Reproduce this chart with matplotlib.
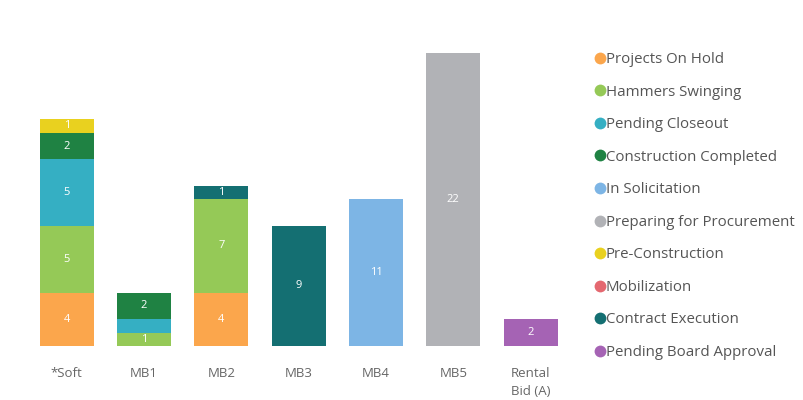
"""Stacked bar chart of project status per category."""

import matplotlib.pyplot as plt
import numpy as np
from matplotlib.lines import Line2D

plt.rcParams["font.family"] = ["Open Sans", "DejaVu Sans"]

CATEGORIES = ["*Soft", "MB1", "MB2", "MB3", "MB4", "MB5", "Rental\nBid (A)"]
STATUSES = [
    "Projects On Hold",
    "Hammers Swinging",
    "Pending Closeout",
    "Construction Completed",
    "In Solicitation",
    "Preparing for Procurement",
    "Pre-Construction",
    "Mobilization",
    "Contract Execution",
    "Pending Board Approval",
]
COLORS = [
    "#FBA64C",
    "#95C957",
    "#35AFC3",
    "#1F8243",
    "#7DB5E5",
    "#B1B2B6",
    "#E9D11F",
    "#E46870",
    "#146F72",
    "#A563B4",
]
# one row per status, one column per category
VALUES = {
    "Projects On Hold": [4, 0, 4, 0, 0, 0, 0],
    "Hammers Swinging": [5, 1, 7, 0, 0, 0, 0],
    "Pending Closeout": [5, 1, 0, 0, 0, 0, 0],
    "Construction Completed": [2, 2, 0, 0, 0, 0, 0],
    "In Solicitation": [0, 0, 0, 0, 11, 0, 0],
    "Preparing for Procurement": [0, 0, 0, 0, 0, 22, 0],
    "Pre-Construction": [1, 0, 0, 0, 0, 0, 0],
    "Mobilization": [0, 0, 0, 0, 0, 0, 0],
    "Contract Execution": [0, 0, 1, 9, 0, 0, 0],
    "Pending Board Approval": [0, 0, 0, 0, 0, 0, 2],
}
# segments too thin to show their number in the original
HIDDEN_LABELS = {("Pending Closeout", "MB1")}

fig = plt.figure(figsize=(8.04, 4.0), dpi=100)
ax = fig.add_axes([0.035, 0.135, 0.673, 0.8])

x = np.arange(len(CATEGORIES))
bottom = np.zeros(len(CATEGORIES))
for status, color in zip(STATUSES, COLORS):
    vals = np.array(VALUES[status], dtype=float)
    ax.bar(x, vals, bottom=bottom, width=0.7, color=color, edgecolor="none")
    for xi, v, b, cat in zip(x, vals, bottom, CATEGORIES):
        if v > 0 and (status, cat) not in HIDDEN_LABELS:
            ax.text(xi, b + v / 2, f"{int(v)}", ha="center", va="center",
                    color="white", fontsize=8)
    bottom += vals

ax.set_xlim(-0.5, len(CATEGORIES) - 0.5)
ax.set_ylim(0, 24)
ax.set_xticks(x)
ax.set_xticklabels(CATEGORIES, color="#666666", fontsize=9.5, linespacing=1.55)
ax.tick_params(axis="x", length=0, pad=15)
ax.set_yticks([])
for spine in ax.spines.values():
    spine.set_visible(False)

handles = [
    Line2D([], [], marker="o", linestyle="none", markersize=8.5,
           markerfacecolor=c, markeredgecolor="none")
    for c in COLORS
]
leg = fig.legend(
    handles,
    STATUSES,
    loc="upper left",
    bbox_to_anchor=(0.733, 0.885),
    frameon=False,
    fontsize=10.8,
    handlelength=0.6,
    handletextpad=0.1,
    labelspacing=1.17,
    borderaxespad=0,
)
for t in leg.get_texts():
    t.set_color("#555555")

fig.savefig("out.png", dpi=100)
